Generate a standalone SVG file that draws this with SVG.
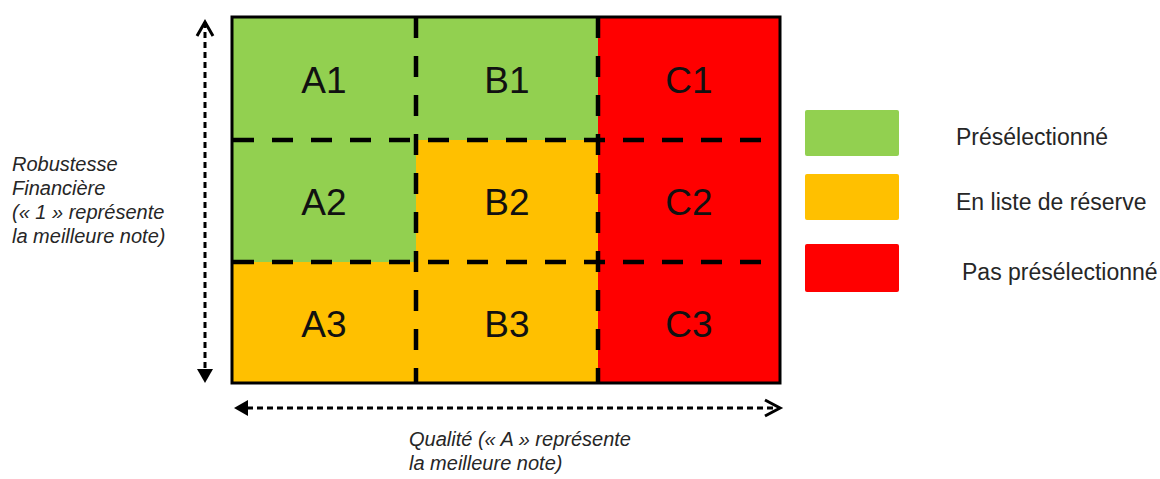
<svg xmlns="http://www.w3.org/2000/svg" width="1160" height="479" viewBox="0 0 1160 479">
<style>
.g{fill:#92D050}.o{fill:#FFC000}.r{fill:#FF0000}
.cell{font-family:"Liberation Sans","DejaVu Sans",sans-serif;font-size:37px;fill:#111;text-anchor:middle}
.leg{font-family:"Liberation Sans","DejaVu Sans",sans-serif;font-size:23px;fill:#262626}
.ax{font-family:"Liberation Sans","DejaVu Sans",sans-serif;font-style:italic;font-size:20px;fill:#262626}
.grid{stroke:#000;stroke-width:4.5;stroke-dasharray:21 18;fill:none}
.arr{stroke:#000;stroke-width:3;stroke-dasharray:6 4;fill:none}
</style>
<rect width="1160" height="479" fill="#fff"/>
<g id="cells">
<g id="A1"><rect class="g" x="232" y="17" width="184" height="123"/><text class="cell" x="324" y="93">A1</text></g>
<g id="B1"><rect class="g" x="416" y="17" width="182" height="123"/><text class="cell" x="507" y="93">B1</text></g>
<g id="C1"><rect class="r" x="598" y="17" width="182" height="123"/><text class="cell" x="689" y="93">C1</text></g>
<g id="A2"><rect class="g" x="232" y="140" width="184" height="122"/><text class="cell" x="324" y="215">A2</text></g>
<g id="B2"><rect class="o" x="416" y="140" width="182" height="122"/><text class="cell" x="507" y="215">B2</text></g>
<g id="C2"><rect class="r" x="598" y="140" width="182" height="122"/><text class="cell" x="689" y="215">C2</text></g>
<g id="A3"><rect class="o" x="232" y="262" width="184" height="121"/><text class="cell" x="324" y="337">A3</text></g>
<g id="B3"><rect class="o" x="416" y="262" width="182" height="121"/><text class="cell" x="507" y="337">B3</text></g>
<g id="C3"><rect class="r" x="598" y="262" width="182" height="121"/><text class="cell" x="689" y="337">C3</text></g>
</g>
<g id="grid">
<line class="grid" x1="233" y1="140" x2="780" y2="140"/>
<line class="grid" x1="233" y1="262" x2="780" y2="262"/>
<line class="grid" x1="416" y1="17" x2="416" y2="383"/>
<line class="grid" x1="598" y1="17" x2="598" y2="383"/>
<rect x="232" y="17" width="548" height="366" fill="none" stroke="#000" stroke-width="3"/>
</g>
<g id="connectors">
<line class="arr" x1="205" y1="22" x2="205" y2="370"/>
<polyline points="197,36 205,22 213,36" fill="none" stroke="#000" stroke-width="3"/>
<polygon points="197,369 213,369 205,383" fill="#000"/>
<line class="arr" x1="247" y1="408" x2="779" y2="408"/>
<polygon points="234,408 248,400 248,416" fill="#000"/>
<polyline points="765,400 780,408 765,416" fill="none" stroke="#000" stroke-width="3"/>
</g>
<g id="axis-labels">
<text class="ax"><tspan x="12" y="171">Robustesse</tspan><tspan x="12" y="195">Financière</tspan><tspan x="12" y="219">(« 1 » représente</tspan><tspan x="12" y="243">la meilleure note)</tspan></text>
<text class="ax"><tspan x="409" y="446">Qualité (« A » représente</tspan><tspan x="409" y="470">la meilleure note)</tspan></text>
</g>
<g id="legend">
<g id="leg-green"><rect class="g" x="805" y="110" width="94" height="46" rx="2"/><text class="leg" x="956" y="145">Présélectionné</text></g>
<g id="leg-orange"><rect class="o" x="805" y="174" width="94" height="46" rx="2"/><text class="leg" x="956" y="210">En liste de réserve</text></g>
<g id="leg-red"><rect class="r" x="805" y="244" width="94" height="48" rx="2"/><text class="leg" x="962" y="280">Pas présélectionné</text></g>
</g>
</svg>
